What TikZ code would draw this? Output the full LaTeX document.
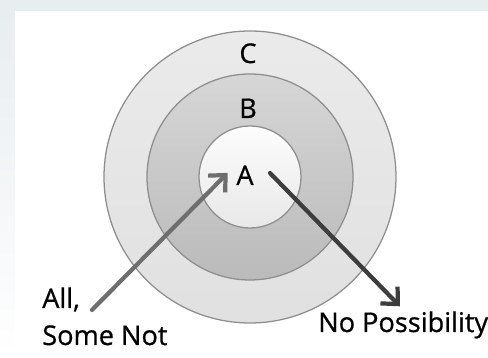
\documentclass[tikz,border=0pt]{standalone}
\usepackage{fontspec}
\setmainfont{Open Sans}
\newfontfamily\labelfont{Open Sans}[FakeBold=0.7]
\usetikzlibrary{arrows.meta, positioning}
\definecolor{bandgrey}{HTML}{E8EDF0}
\definecolor{ringedge}{HTML}{8E8E8E}
\tikzset{every picture/.style={>=latex}}

\begin{document}
\begin{tikzpicture}[
    every node/.style={font=\labelfont\fontsize{19.3}{23}\selectfont, inner sep=0pt},
    ring/.style={draw=ringedge, line width=0.9pt},
    pointer/.style={line width=3pt, line cap=round, line join=round,
        -{Straight Barb[length=9pt, width=17pt]}}
]
    % page frame
    \useasboundingbox (-6.25,-4.525) rectangle (5.95,4.425);
    \fill[white] (-6.25,-4.525) rectangle (5.95,4.425);
    \fill[bandgrey] (-6.25,4.15) rectangle (5.95,4.425);
    \shade[top color=bandgrey, bottom color=white] (-6.25,-4.525) rectangle (-5.875,4.15);

    % rings
    \shade[ring, top color=black!8, bottom color=black!12] (0,0) circle (3.65);
    \shade[ring, top color=black!16, bottom color=black!27] (0,0) circle (2.575);
    \shade[ring, top color=black!1, bottom color=black!9] (0,0) circle (1.275);

    % ring letters
    \node[anchor=base] (C) at (-0.05,2.85) {C};
    \node[anchor=base] (B) at (-0.05,1.475) {B};
    \node[anchor=base] (A) at (-0.125,-0.2) {A};

    % outside labels
    \node[anchor=base west] (all) at (-5.2,-3.275) {All,};
    \node[anchor=base west] (some) at (-5.2,-4.2) {Some Not};
    \node[anchor=base west] (nopos) at (1.7,-3.875) {No Possibility};

    % arrows
    \coordinate (allTail) at (-3.95,-3.325);
    \coordinate (noTail) at (0.5,0.1);
    \draw[pointer, black!57] (allTail) -- ([shift={(-0.21,0.06)}]A.west);
    \draw[pointer, black!76] (noTail) -- ([shift={(-0.08,0.12)}]nopos.north);
\end{tikzpicture}
\end{document}
